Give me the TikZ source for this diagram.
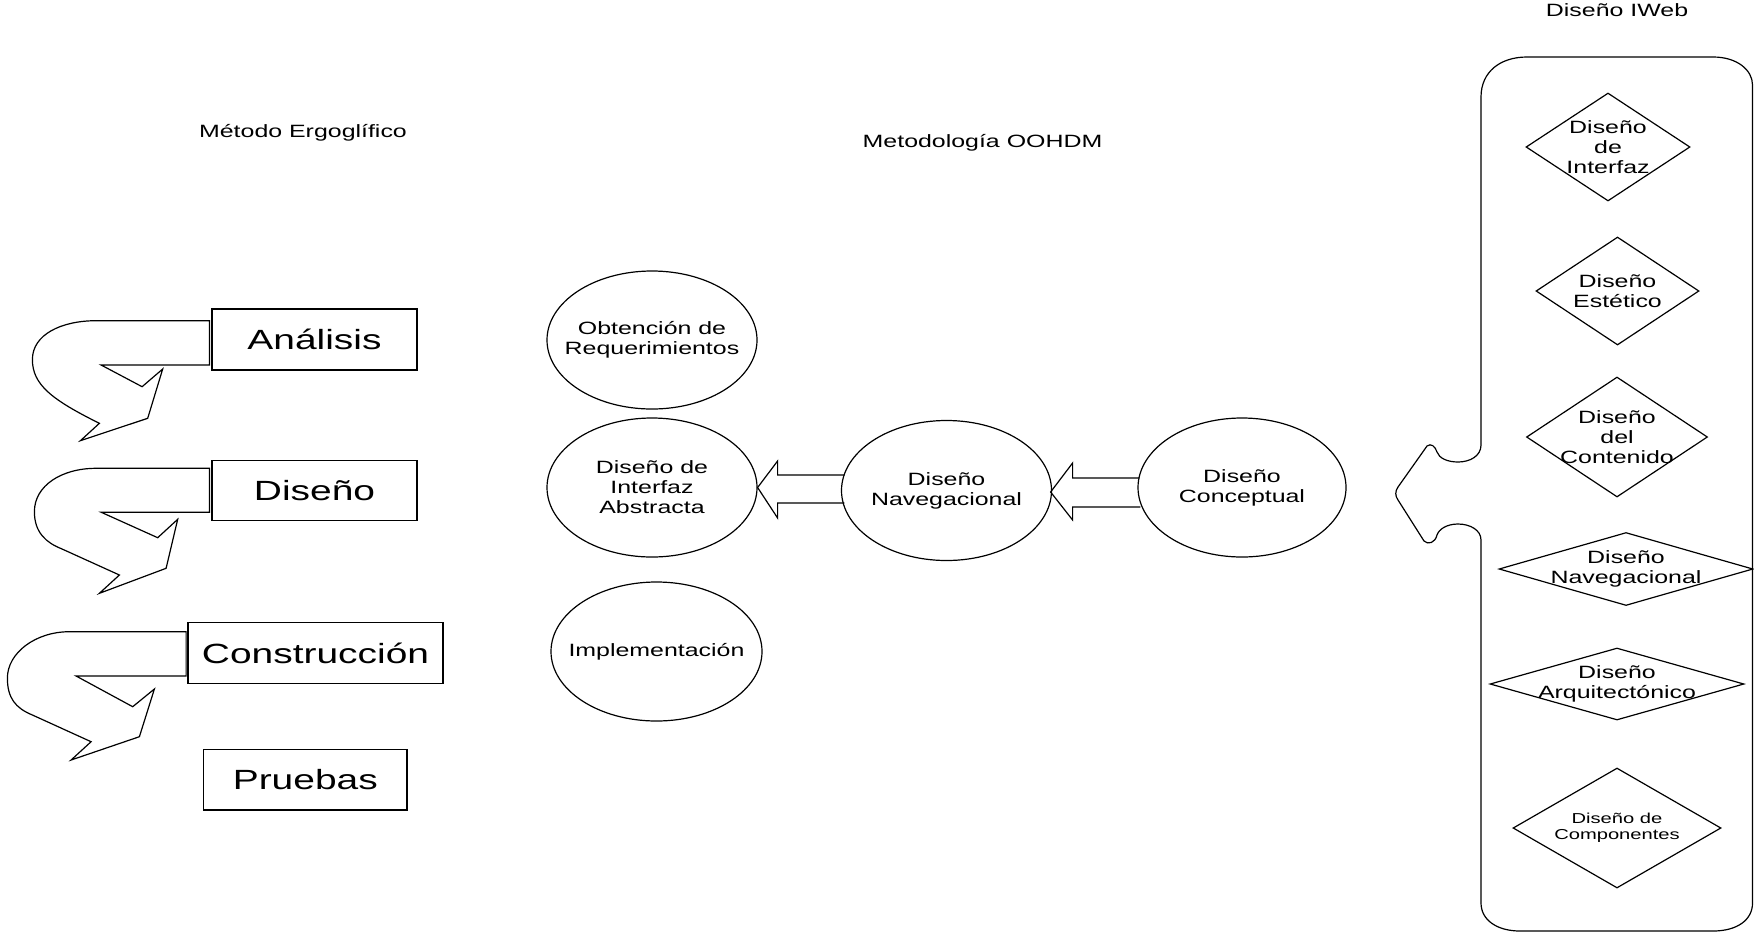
\documentclass[tikz,border=0pt]{standalone}
\usepackage{fontspec}
\setmainfont{Liberation Sans}[FakeStretch=1.4]
\usetikzlibrary{shapes.geometric,calc}
\begin{document}
\begin{tikzpicture}[x=0.5pt,y=-0.5pt,line width=0.6pt,
  basefont/.style={font=\fontsize{8.9}{10}\selectfont, align=center},
  bigfont/.style={font=\fontsize{13.9}{16}\selectfont},
  smallfont/.style={font=\fontsize{7.2}{8}\selectfont, align=center},
  box/.style={draw, rectangle, inner sep=0pt, bigfont},
  ell/.style={draw, ellipse, inner sep=0pt},
  dia/.style={draw, diamond, inner sep=0pt},
  txt/.style={basefont, inner sep=0pt},
  title/.style={basefont, anchor=base, inner sep=0pt}]
\useasboundingbox (0,0) rectangle (1754,932);

% titles
\node[title] (t1) at (303,137.7) {Método Ergoglífico};
\node[title] (t2) at (982.5,147.7) {Metodología OOHDM};
\node[title] (t3) at (1617,16.7) {Diseño IWeb};

% left boxes
\node[box, minimum width=102.5pt, minimum height=30.5pt] (ana) at (314.5,339.5) {Análisis};
\node[box, minimum width=102.5pt, minimum height=30pt] (dis) at (314.5,490.7) {Diseño};
\node[box, minimum width=127.5pt, minimum height=30.25pt] (con) at (315.5,653) {Construcción};
\node[box, minimum width=101.75pt, minimum height=30.25pt] (pru) at (305.3,779.7) {Pruebas};

% U-turn arrows
\begin{scope}[shift={(ana.west)}]
\draw (-2,-18.8) -- (-115.3,-18.8) .. controls (-150,-18.8) and (-179,-5) .. (-179,20)
  .. controls (-179,45) and (-160,60) .. (-112,83.8) -- (-131,101.2) -- (-63.7,78.8)
  -- (-48.7,29.5) -- (-69.3,47.2) -- (-110.3,25.5) -- (-2,25.5) -- cycle;
\end{scope}
\begin{scope}[shift={(dis.west)}]
\draw (-2,-22.4) -- (-115.3,-22.4) .. controls (-150,-22.4) and (-177,-5) .. (-177,21)
  .. controls (-177,42) and (-165,52) .. (-150,58) -- (-92,84.3) -- (-112,102.6) -- (-45.3,77.6)
  -- (-33.7,28.6) -- (-53.7,47) -- (-110.3,21.5) -- (-2,21.5) -- cycle;
\end{scope}
\begin{scope}[shift={(con.west)}]
\draw (-1.3,-21.3) -- (-118,-21.3) .. controls (-152,-21.3) and (-180,0) .. (-180,25)
  .. controls (-180,45) and (-172,55) .. (-155,62) -- (-96.3,88.7) -- (-116.3,107) -- (-48,83.7)
  -- (-33,36) -- (-54.7,53.7) -- (-111.3,23) -- (-1.3,23) -- cycle;
\end{scope}

% ellipses
\node[ell, minimum width=105pt, minimum height=69pt] (obt) at (652,340) {};
\node[txt] (obtT) at (obt) {Obtención de\\Requerimientos};
\node[ell, minimum width=105pt, minimum height=69.5pt] (ia) at (652,487.5) {};
\node[txt] (iaT) at (ia) {Diseño de\\Interfaz\\Abstracta};
\node[ell, minimum width=105.5pt, minimum height=69.5pt] (imp) at (656.5,651.5) {};
\node[txt] (impT) at (imp) {Implementación};
\node[ell, minimum width=105pt, minimum height=70pt] (nav) at (946.5,490.5) {};
\node[txt] (navT) at (nav) {Diseño\\Navegacional};
\node[ell, minimum width=104pt, minimum height=69.5pt] (cpt) at (1242,487.5) {};
\node[txt] (cptT) at (cpt) {Diseño\\Conceptual};

% block arrows
\draw ($(nav.west)+(3.5,-15.5)$) -- ($(ia.east)+(20,-12.5)$) -- ($(ia.east)+(20,-26.5)$)
  -- (ia.east) -- ($(ia.east)+(20,30.5)$) -- ($(ia.east)+(20,15.5)$) -- ($(nav.west)+(3.5,12.5)$);
\draw ($(cpt.west)+(2,-9.5)$) -- ($(nav.east)+(20.5,-12.5)$) -- ($(nav.east)+(20.5,-27.5)$)
  -- ($(nav.east)+(-1.5,1.5)$) -- ($(nav.east)+(20.5,29.5)$) -- ($(nav.east)+(20.5,16.5)$) -- ($(cpt.west)+(3,19.5)$);

% right panel
\draw (1481,445) .. controls (1481,456) and (1470,462) .. (1458,462)
  .. controls (1447,462) and (1439,458) .. (1437,452)
  .. controls (1435,446) and (1431,443) .. (1427,446) -- (1398,487)
  .. controls (1395,491) and (1395,496) .. (1398,500) -- (1424,541)
  .. controls (1428,545) and (1435,543) .. (1437,535)
  .. controls (1439,529) and (1447,524) .. (1458,524)
  .. controls (1470,524) and (1481,530) .. (1481,540) -- (1481,903)
  .. controls (1481,920) and (1497,931) .. (1520,931) -- (1713,931)
  .. controls (1737,931) and (1752.5,920) .. (1752.5,903) -- (1752.5,85)
  .. controls (1752.5,70) and (1737,57) .. (1713,57) -- (1527,57)
  .. controls (1500,57) and (1481,72) .. (1481,97) -- cycle;

% diamonds
\node[dia, minimum width=82pt, minimum height=54pt] (d1) at (1608,147) {};
\node[txt] (d1T) at (d1) {Diseño\\de\\Interfaz};
\node[dia, minimum width=81.5pt, minimum height=54pt] (d2) at (1617.5,291) {};
\node[txt] (d2T) at (d2) {Diseño\\Estético};
\node[dia, minimum width=90.5pt, minimum height=60pt] (d3) at (1617,437) {};
\node[txt] (d3T) at (d3) {Diseño\\del\\Contenido};
\node[dia, minimum width=127pt, minimum height=36.5pt] (d4) at (1626,569) {};
\node[txt] (d4T) at (d4) {Diseño\\Navegacional};
\node[dia, minimum width=127pt, minimum height=36pt] (d5) at (1617,684) {};
\node[txt] (d5T) at (d5) {Diseño\\Arquitectónico};
\node[dia, minimum width=104pt, minimum height=60pt] (d6) at (1617,828) {};
\node[smallfont, inner sep=0pt] (d6T) at (d6) {Diseño de\\Componentes};
\end{tikzpicture}
\end{document}
